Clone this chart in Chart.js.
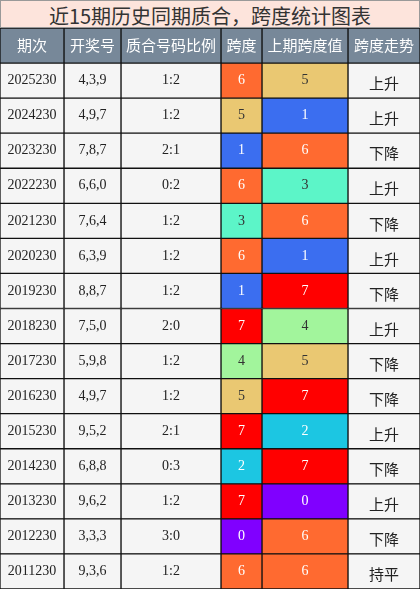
<!DOCTYPE html>
<html lang="zh">
<head>
<meta charset="UTF-8" />
<script src="https://cdn.jsdelivr.net/npm/chart.js"></script>
<style>
  body { margin: 0; width: 420px; height: 589px; overflow: hidden; background: #fff; }
  #title { height: 28px; line-height: 28px; text-align: center; background: #fde4dc; color: #333;
           font: 20px "Noto Sans CJK SC", sans-serif; border: 1px solid #999; box-sizing: border-box; }
  canvas { display: block; }
</style>
</head>
<body>
<div id="title">近15期历史同期质合，跨度统计图表</div>
<canvas id="tbl" width="420" height="561"></canvas>
<script>
const headers = ['期次', '开奖号', '质合号码比例', '跨度', '上期跨度值', '跨度走势'];
const colEdges = [0, 64, 121, 221, 262, 348, 420];
const periods = ['2025230','2024230','2023230','2022230','2021230','2020230','2019230','2018230','2017230','2016230','2015230','2014230','2013230','2012230','2011230'];
const draws = ['4,3,9','4,9,7','7,8,7','6,6,0','7,6,4','6,3,9','8,8,7','7,5,0','5,9,8','4,9,7','9,5,2','6,8,8','9,6,2','3,3,3','9,3,6'];
const ratios = ['1:2','1:2','2:1','0:2','1:2','1:2','1:2','2:0','1:2','1:2','2:1','0:3','1:2','3:0','1:2'];
const spans = [6,5,1,6,3,6,1,7,4,5,7,2,7,0,6];
const prevSpans = [5,1,6,3,6,1,7,4,5,7,2,7,0,6,6];
const trends = ['上升','上升','下降','上升','下降','上升','下降','上升','下降','下降','上升','下降','上升','下降','持平'];

const spanColors = ['#8000ff','#3b6ef0','#1cc6e2','#5cf5c8','#a2f59c','#eac872','#ff6a30','#ff0000'];
const spanText = ['#fff','#fff','#fff','#333','#333','#333','#fff','#fff'];

const rowLabels = ['header', ...periods];
const columns = [periods, draws, ratios, spans, prevSpans, trends];

const datasets = columns.map((col, c) => {
  const texts = [headers[c], ...col.map(String)];
  const bg = ['#778899'];
  const fg = ['#fff'];
  col.forEach(v => {
    if (c === 3 || c === 4) { bg.push(spanColors[v]); fg.push(spanText[v]); }
    else { bg.push('#f5f5f5'); fg.push('#222'); }
  });
  return {
    data: rowLabels.map(() => [colEdges[c], colEdges[c + 1]]),
    backgroundColor: bg,
    borderColor: '#111',
    borderWidth: 1,
    borderSkipped: false,
    grouped: false,
    categoryPercentage: 1,
    barPercentage: 1,
    texts, fg, col: c
  };
});

const cellText = {
  id: 'cellText',
  afterDatasetsDraw(chart) {
    const ctx = chart.ctx;
    ctx.save();
    ctx.textAlign = 'center';
    ctx.textBaseline = 'middle';
    chart.data.datasets.forEach((ds, i) => {
      chart.getDatasetMeta(i).data.forEach((el, r) => {
        const cx = (el.x + el.base) / 2;
        const cjk = r === 0 || ds.col === 5;
        ctx.font = cjk ? '15px "Noto Sans CJK SC"' : '14px "Liberation Serif"';
        ctx.fillStyle = ds.fg[r];
        ctx.fillText(ds.texts[r], cx, el.y + (r > 0 && ds.col === 5 ? 3 : 0));
      });
    });
    ctx.restore();
  }
};

new Chart(document.getElementById('tbl'), {
  type: 'bar',
  data: { labels: rowLabels, datasets },
  options: {
    indexAxis: 'y',
    responsive: false,
    animation: false,
    layout: { padding: 0 },
    plugins: { legend: { display: false }, tooltip: { enabled: false } },
    scales: {
      x: { type: 'linear', min: 0, max: 420, display: false },
      y: { display: false, offset: true }
    }
  },
  plugins: [cellText]
});
</script>
</body>
</html>
